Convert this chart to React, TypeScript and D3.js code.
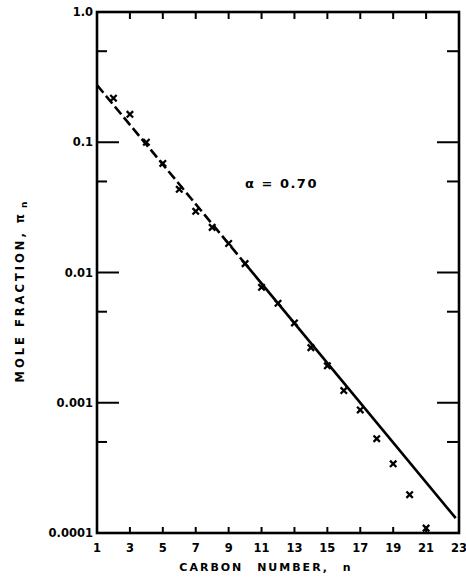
import React from "react";
import * as d3 from "d3";

const carbonNumbers = [2, 3, 4, 5, 6, 7, 8, 9, 10, 11, 12, 13, 14, 15, 16, 17, 18, 19, 20, 21];
const moleFractions = [
  0.218, 0.164, 0.1, 0.0688, 0.0435, 0.0295, 0.0222, 0.0167, 0.0117, 0.0077,
  0.0058, 0.0041, 0.00265, 0.00192, 0.00124, 0.00088, 0.00053, 0.00034, 0.000197, 0.000109,
];
const fitN = [1, 10, 22.8];
const fitV = [0.275, 0.0117, 0.00013];
const xTickValues = [3, 5, 7, 9, 11, 13, 15, 17, 19, 21];
const xTickLabels = ["1", "3", "5", "7", "9", "11", "13", "15", "17", "19", "21", "23"];
const xLabelValues = [1, 3, 5, 7, 9, 11, 13, 15, 17, 19, 21, 23];
const yMajor = [1, 0.1, 0.01, 0.001, 0.0001];
const yMajorLabels = ["1.0", "0.1", "0.01", "0.001", "0.0001"];
const yInnerMajor = [0.1, 0.01, 0.001];
const yMinor = [0.5, 0.05, 0.005, 0.0005];

const W = 466;
const H = 584;
const left = 97;
const right = 459;
const top = 12;
const bottom = 533;
const font = "'DejaVu Sans', sans-serif";

export default function App() {
  const x = d3.scaleLinear().domain([1, 23]).range([left, right]);
  const y = d3.scaleLog().domain([0.0001, 1]).range([bottom, top]);
  const line = d3
    .line<[number, number]>()
    .x((d) => x(d[0]))
    .y((d) => y(d[1]));
  const pts: [number, number][] = fitN.map((n, i) => [n, fitV[i]]);
  const dashedPath = line(pts.slice(0, 2)) || "";
  const solidPath = line(pts.slice(1)) || "";
  const s = 3.2;

  return (
    <svg
      width={W}
      height={H}
      style={{ position: "absolute", left: 0, top: 0, background: "#fff" }}
    >
      <rect x={0} y={0} width={W} height={H} fill="#fff" />
      {/* frame */}
      <rect
        x={left}
        y={top}
        width={right - left}
        height={bottom - top}
        fill="none"
        stroke="#000"
        strokeWidth={2.6}
      />
      {/* y ticks, both sides */}
      {yInnerMajor.map((v) => (
        <g key={"ym" + v}>
          <line x1={left} x2={left + 22} y1={y(v)} y2={y(v)} stroke="#000" strokeWidth={2} />
          <line x1={right} x2={right - 22} y1={y(v)} y2={y(v)} stroke="#000" strokeWidth={2} />
        </g>
      ))}
      {yMinor.map((v) => (
        <g key={"yn" + v}>
          <line x1={left} x2={left + 10} y1={y(v)} y2={y(v)} stroke="#000" strokeWidth={2} />
          <line x1={right} x2={right - 12} y1={y(v)} y2={y(v)} stroke="#000" strokeWidth={2} />
        </g>
      ))}
      {/* x ticks, top & bottom */}
      {xTickValues.map((v) => (
        <g key={"xt" + v}>
          <line x1={x(v)} x2={x(v)} y1={bottom} y2={bottom - 6} stroke="#000" strokeWidth={2} />
          <line x1={x(v)} x2={x(v)} y1={top} y2={top + 7} stroke="#000" strokeWidth={2} />
        </g>
      ))}
      {/* y labels */}
      {yMajor.map((v, i) => (
        <text
          key={"yl" + v}
          x={left - 4}
          y={y(v)}
          dy="0.35em"
          textAnchor="end"
          fontFamily={font}
          fontWeight="bold"
          fontSize={11.5}
          fill="#000"
        >
          {yMajorLabels[i]}
        </text>
      ))}
      {/* x labels */}
      {xLabelValues.map((v, i) => (
        <text
          key={"xl" + v}
          x={x(v)}
          y={552}
          textAnchor="middle"
          fontFamily={font}
          fontWeight="bold"
          fontSize={11.5}
          fill="#000"
        >
          {xTickLabels[i]}
        </text>
      ))}
      {/* axis titles */}
      <text
        x={266}
        y={571}
        textAnchor="middle"
        fontFamily={font}
        fontWeight="bold"
        fontSize={11}
        letterSpacing={2}
        wordSpacing={8}
        fill="#000"
      >
        CARBON NUMBER, n
      </text>
      <text
        transform="translate(24,292) rotate(-90)"
        textAnchor="middle"
        fontFamily={font}
        fontWeight="bold"
        fontSize={11.5}
        letterSpacing={3}
        fill="#000"
      >
        MOLE FRACTION, π
        <tspan fontSize={9} dy={3} letterSpacing={0}>
          {" n"}
        </tspan>
      </text>
      {/* fit line */}
      <path d={dashedPath} fill="none" stroke="#000" strokeWidth={2.6} strokeDasharray="10,4" />
      <path d={solidPath} fill="none" stroke="#000" strokeWidth={2.6} />
      {/* data markers */}
      {carbonNumbers.map((n, i) => {
        const cx = x(n);
        const cy = y(moleFractions[i]);
        return (
          <path
            key={"m" + n}
            d={`M${cx - s},${cy - s}L${cx + s},${cy + s}M${cx - s},${cy + s}L${cx + s},${cy - s}`}
            stroke="#000"
            strokeWidth={2.3}
            fill="none"
          />
        );
      })}
      {/* annotation */}
      <text
        x={245}
        y={188}
        fontFamily={font}
        fontWeight="bold"
        fontSize={13}
        letterSpacing={1.5}
        fill="#000"
      >
        α = 0.70
      </text>
    </svg>
  );
}
